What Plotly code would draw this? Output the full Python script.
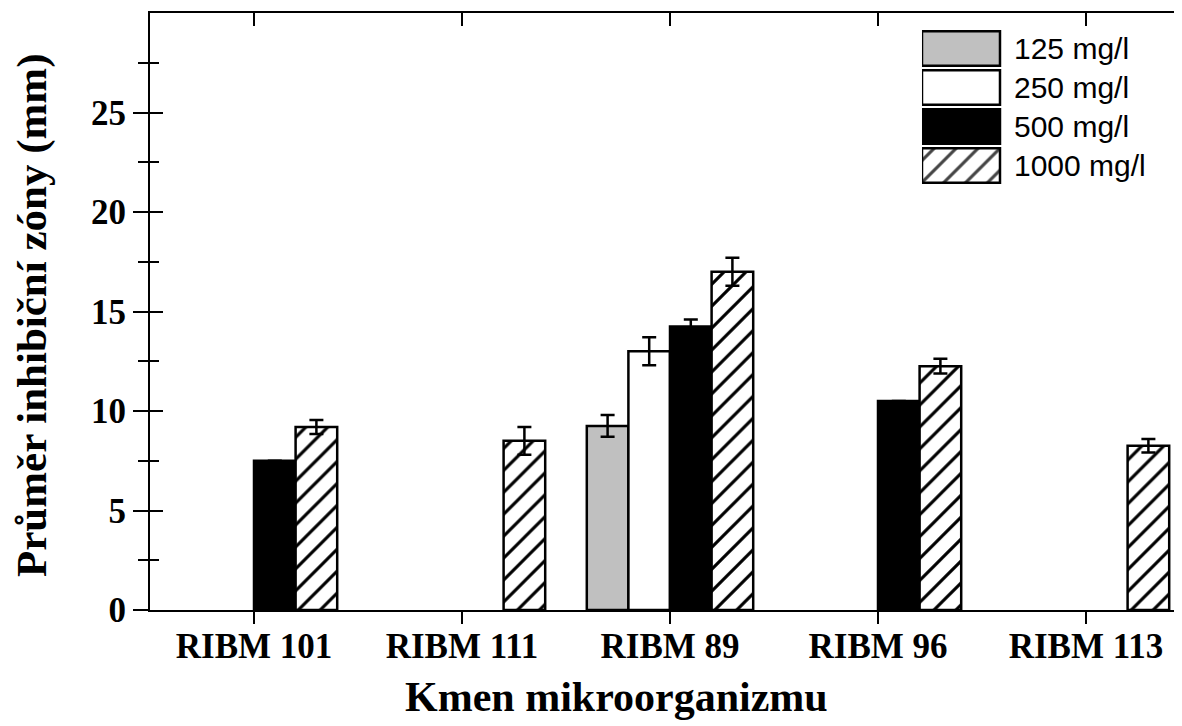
import plotly.graph_objects as go

# ---------------- data ----------------
categories = ["RIBM 101", "RIBM 111", "RIBM 89", "RIBM 96", "RIBM 113"]
series_names = ["125 mg/l", "250 mg/l", "500 mg/l", "1000 mg/l"]

v125 = [None, None, 9.25, None, None]
e125 = [0, 0, 0.55, 0, 0]
v250 = [None, None, 13.0, None, None]
e250 = [0, 0, 0.7, 0, 0]
v500 = [7.5, None, 14.25, 10.5, None]
e500 = [0, 0, 0.35, 0, 0]
v1000 = [9.2, 8.5, 17.0, 12.25, 8.25]
e1000 = [0.35, 0.7, 0.7, 0.37, 0.34]

y_major = [0, 5, 10, 15, 20, 25]
y_minor = [2.5, 7.5, 12.5, 17.5, 22.5, 27.5]
y_range = [0, 30]

# ---------------- styles ----------------
GRAY = "#c0c0c0"
fills = [GRAY, "white", "black", "white"]
shapes = ["", "", "", "/"]
values = [v125, v250, v500, v1000]
errors = [e125, e250, e500, e1000]

SERIF = "Liberation Serif"
SANS = "Liberation Sans"
x_range = [-0.5, 4.5]
PAT = dict(fgcolor="black", fgopacity=1, size=15.5, solidity=0.2)

fig = go.Figure()

for name, vals, errs, col, shp in zip(series_names, values, errors, fills, shapes):
    fig.add_trace(go.Bar(
        x=categories, y=vals, name=name, showlegend=False,
        marker=dict(color=col, line=dict(color="black", width=2.5),
                    pattern=dict(shape=shp, bgcolor=col, **PAT)),
        error_y=dict(type="data", array=errs, visible=True,
                     color="black", thickness=2.5, width=7),
    ))

# helper invisible traces so overlay axes are drawn
fig.add_trace(go.Scatter(x=[None], y=[None], xaxis="x2", yaxis="y",
                         showlegend=False, hoverinfo="skip"))
fig.add_trace(go.Scatter(x=[None], y=[None], xaxis="x", yaxis="y2",
                         showlegend=False, hoverinfo="skip"))
fig.add_trace(go.Scatter(x=[None], y=[None], xaxis="x", yaxis="y3",
                         showlegend=False, hoverinfo="skip"))

# custom legend drawn as a small bar chart
leg_idx = list(range(len(series_names)))
fig.add_trace(go.Bar(
    x=[1] * len(series_names), y=leg_idx, orientation="h", base=0,
    width=0.88, xaxis="x3", yaxis="y4", showlegend=False, hoverinfo="skip",
    cliponaxis=False,
    marker=dict(color=fills, line=dict(color="black", width=2.5),
                pattern=dict(shape=shapes, bgcolor=fills, **PAT)),
))

annotations = []
for i, name in enumerate(series_names):
    annotations.append(dict(
        text=name, xref="x3", yref="y4", x=1.15, y=i,
        xanchor="left", yanchor="middle", showarrow=False,
        font=dict(family=SANS, size=30, color="black")))

annotations.append(dict(
    text="Kmen mikroorganizmu", xref="paper", yref="paper",
    x=0.449, y=-0.1457, xanchor="center", yanchor="middle", showarrow=False,
    font=dict(family=SERIF, size=42, color="black", weight="bold")))
annotations.append(dict(
    text="Průměr inhibiční zóny (mm)", xref="paper", yref="paper",
    x=-0.1135, y=0.494, xanchor="center", yanchor="middle", textangle=-90,
    showarrow=False, borderpad=0,
    font=dict(family=SERIF, size=43, color="black", weight="bold")))

tickfont = dict(family=SERIF, size=35, color="black", weight="bold")

fig.update_layout(
    width=1182, height=726,
    margin=dict(l=142, r=0, t=5, b=124, pad=0),
    paper_bgcolor="white", plot_bgcolor="white",
    barmode="group", bargap=0.2, bargroupgap=0,
    showlegend=False,
    annotations=annotations,
    xaxis=dict(type="category", range=x_range, showgrid=False, zeroline=False,
               showline=True, linecolor="black", linewidth=2,
               ticks="outside", ticklen=12, tickwidth=2, tickcolor="black",
               ticklabelstandoff=-8, tickfont=tickfont),
    xaxis2=dict(overlaying="x", side="top", anchor="y", range=x_range,
                showgrid=False, zeroline=False, showline=True,
                linecolor="black", linewidth=2,
                tickvals=list(range(len(categories))),
                ticks="inside", ticklen=13, tickwidth=2, tickcolor="black",
                showticklabels=False),
    yaxis=dict(range=y_range, showgrid=False, zeroline=False,
               showline=True, linecolor="black", linewidth=2,
               tickvals=y_major, ticks="outside", ticklen=15, tickwidth=2,
               tickcolor="black", tickfont=tickfont,
               minor=dict(tickvals=y_minor, ticks="outside", ticklen=10,
                          tickwidth=2, tickcolor="black", showgrid=False)),
    yaxis2=dict(overlaying="y", side="left", anchor="x", range=y_range,
                showgrid=False, zeroline=False, showline=False,
                tickvals=y_major, ticks="inside", ticklen=13, tickwidth=2,
                tickcolor="black", showticklabels=False,
                minor=dict(tickvals=y_minor, ticks="inside", ticklen=9,
                           tickwidth=2, tickcolor="black", showgrid=False)),
    yaxis3=dict(overlaying="y", side="right", anchor="x", range=y_range,
                showgrid=False, zeroline=False, showline=False,
                tickvals=y_major, ticks="inside", ticklen=13, tickwidth=2,
                tickcolor="black", showticklabels=False,
                minor=dict(tickvals=y_minor, ticks="inside", ticklen=9,
                           tickwidth=2, tickcolor="black", showgrid=False)),
    xaxis3=dict(domain=[0.7423, 0.9073], range=[0, 2.2], anchor="y4",
                visible=False, fixedrange=True),
    yaxis4=dict(domain=[0.7119, 0.9732], range=[3.5, -0.5], anchor="x3",
                visible=False, fixedrange=True),
)

fig.write_html("out.html")
